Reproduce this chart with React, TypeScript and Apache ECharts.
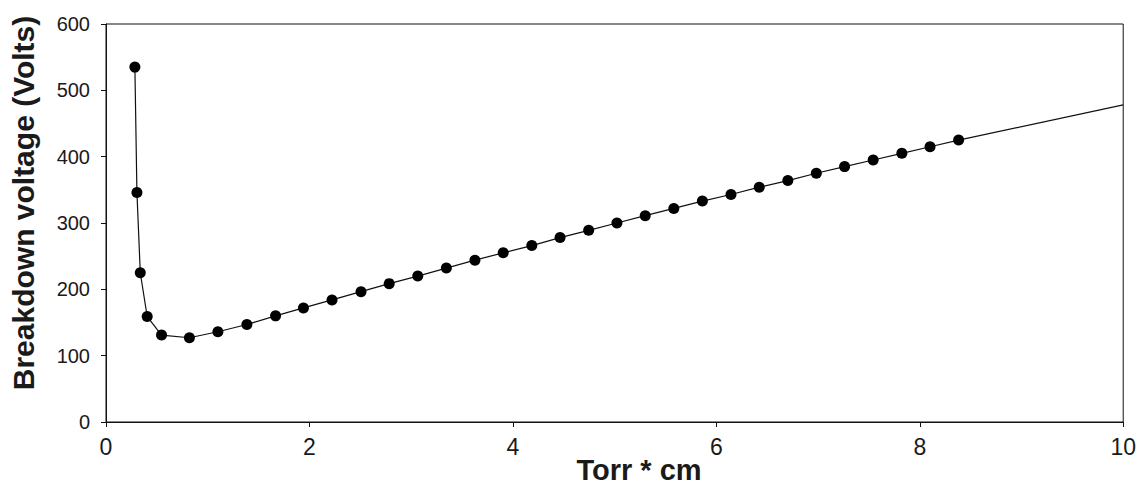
import React, { useEffect, useRef } from "react";
import * as echarts from "echarts";

const pdValues = [0.284, 0.304, 0.337, 0.405, 0.546, 0.82, 1.1, 1.385, 1.667, 1.941, 2.222, 2.507, 2.784, 3.065, 3.346, 3.627, 3.905, 4.186, 4.464, 4.745, 5.023, 5.301, 5.582, 5.863, 6.144, 6.422, 6.703, 6.983, 7.261, 7.542, 7.824, 8.101, 8.382];
const voltageValues = [535, 346, 225, 159, 131, 127, 136, 147, 160, 172, 184, 196.5, 208.6, 220, 232, 244, 255, 266, 278, 289, 300, 311, 322, 333, 343, 354, 364, 375, 385, 395, 405, 415, 425];
const extensionPoint = [10, 478];
const xTicks = [0, 2, 4, 6, 8, 10];
const yTicks = [0, 100, 200, 300, 400, 500, 600];
const xTitle = "Torr * cm";
const yTitle = "Breakdown voltage (Volts)";

export default function App() {
  const ref = useRef<HTMLDivElement>(null);
  useEffect(() => {
    if (!ref.current) return;
    const chart = echarts.init(ref.current, undefined, { renderer: "svg" });
    const data: any[] = pdValues.map((x, i) => [x, voltageValues[i]]);
    data.push({ value: extensionPoint, symbol: "none" });
    const textColor = "#1a1a1a";
    chart.setOption({
      animation: false,
      backgroundColor: "#ffffff",
      grid: {
        left: 106,
        right: 13,
        top: 24,
        bottom: 64,
        show: true,
        borderColor: "#111",
        borderWidth: 1,
        backgroundColor: "transparent",
      },
      xAxis: {
        type: "value",
        min: xTicks[0],
        max: xTicks[xTicks.length - 1],
        interval: 2,
        axisLine: { show: true, onZero: false, lineStyle: { color: "#111", width: 1 } },
        axisTick: { show: true, length: 5, lineStyle: { color: "#111" } },
        splitLine: { show: false },
        axisLabel: {
          color: textColor,
          fontFamily: "Liberation Sans, Arial, sans-serif",
          fontSize: 23,
          margin: 13,
        },
      },
      yAxis: {
        type: "value",
        min: yTicks[0],
        max: yTicks[yTicks.length - 1],
        interval: 100,
        axisLine: { show: true, onZero: false, lineStyle: { color: "#111", width: 1 } },
        axisTick: { show: true, length: 5, lineStyle: { color: "#111" } },
        splitLine: { show: false },
        axisLabel: {
          color: textColor,
          fontFamily: "Liberation Sans, Arial, sans-serif",
          fontSize: 20,
          margin: 16,
        },
      },
      graphic: [
        {
          type: "text",
          x: 639,
          y: 470,
          style: {
            text: xTitle,
            fill: textColor,
            font: "bold 29px 'Liberation Sans', Arial, sans-serif",
            textAlign: "center",
            textVerticalAlign: "middle",
          },
        },
        {
          type: "text",
          x: 23,
          y: 203,
          rotation: Math.PI / 2,
          style: {
            text: yTitle,
            fill: textColor,
            font: "bold 30px 'Liberation Sans', Arial, sans-serif",
            textAlign: "center",
            textVerticalAlign: "middle",
          },
        },
      ],
      series: [
        {
          type: "line",
          data,
          symbol: "circle",
          symbolSize: 11,
          showSymbol: true,
          lineStyle: { color: "#111", width: 1.2 },
          itemStyle: { color: "#000" },
          clip: false,
        },
      ],
    });
    return () => chart.dispose();
  }, []);
  return <div ref={ref} style={{ width: 1139, height: 486, position: "absolute", left: 0, top: 0 }} />;
}
